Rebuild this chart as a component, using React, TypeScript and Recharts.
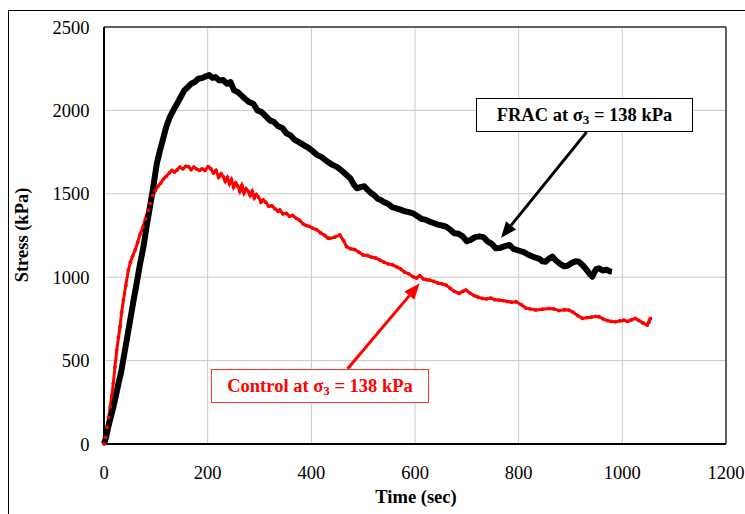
import { LineChart, Line, XAxis, YAxis, CartesianGrid, ReferenceLine } from "recharts";

// time (sec), stress (kPa)
const fracPoints: [number, number][] = [
  [0, 0], [4, 40], [8, 100], [13, 160], [18, 220], [23, 290], [28, 364], [33, 430], [37, 500], [42, 590],
  [47, 680], [52, 770], [57, 860], [63, 963], [69, 1070], [76, 1180], [82, 1300], [88, 1410], [94, 1520], [102, 1683],
  [108, 1760], [114, 1830], [120, 1900], [127, 1960], [134, 2002], [141, 2040], [148, 2080], [155, 2120], [162, 2140], [168, 2160],
  [175, 2170], [182, 2190], [190, 2195], [197, 2205], [203, 2212], [209, 2195], [215, 2200], [222, 2180], [230, 2182], [237, 2160],
  [244, 2170], [251, 2120], [258, 2110], [265, 2090], [272, 2070], [280, 2050], [288, 2040], [296, 2000], [304, 1990], [312, 1965],
  [320, 1940], [328, 1930], [336, 1905], [344, 1895], [352, 1862], [360, 1850], [368, 1823], [376, 1810], [384, 1795], [392, 1780],
  [400, 1763], [410, 1735], [420, 1720], [430, 1695], [440, 1675], [450, 1660], [460, 1635], [468, 1613], [476, 1590], [482, 1555],
  [488, 1533], [495, 1540], [502, 1545], [508, 1525], [515, 1505], [522, 1490], [528, 1470], [534, 1463], [540, 1450], [548, 1440],
  [556, 1420], [564, 1413], [572, 1405], [580, 1395], [588, 1390], [596, 1383], [605, 1365], [612, 1350], [620, 1345], [628, 1333],
  [636, 1325], [644, 1315], [652, 1310], [660, 1303], [668, 1285], [676, 1263], [684, 1260], [692, 1245], [700, 1215], [708, 1225],
  [716, 1240], [724, 1245], [732, 1240], [740, 1215], [748, 1200], [756, 1173], [764, 1175], [772, 1185], [782, 1193], [790, 1170],
  [800, 1160], [810, 1150], [820, 1133], [830, 1120], [840, 1110], [846, 1095], [852, 1093], [858, 1110], [865, 1123], [872, 1100],
  [880, 1080], [888, 1065], [895, 1070], [902, 1085], [910, 1095], [916, 1093], [924, 1070], [932, 1040], [938, 1015], [942, 1003],
  [946, 1030], [950, 1050], [955, 1053], [962, 1040], [970, 1045], [976, 1035], [980, 1033],
];

const controlPoints: [number, number][] = [
  [0, 0], [3, 40], [6, 100], [9, 160], [12, 224], [15, 290], [18, 364], [21, 460], [24.6, 563], [28, 640],
  [31, 703], [34, 790], [37.5, 863], [42, 950], [47, 1043], [51, 1090], [55, 1125], [60, 1163], [65, 1210], [70, 1260],
  [75, 1300], [80, 1350], [85, 1400], [89, 1443], [94, 1490], [99, 1520], [104, 1545], [109, 1563], [115, 1590], [120, 1605],
  [126, 1625], [131, 1640], [136, 1630], [141, 1643], [146, 1660], [152, 1650], [158, 1665], [163, 1663], [168, 1645], [173, 1660],
  [178, 1650], [184, 1640], [189, 1650], [195, 1640], [201, 1663], [206, 1650], [211, 1625], [216, 1640], [221, 1600], [226, 1620],
  [230, 1603], [234, 1575], [238, 1598], [242, 1560], [246, 1585], [250, 1540], [254, 1565], [258, 1548], [262, 1515], [266, 1550],
  [270, 1505], [274, 1530], [278, 1515], [282, 1490], [286, 1515], [290, 1475], [294, 1495], [298, 1480], [303, 1450], [307, 1463],
  [312, 1450], [318, 1425], [324, 1428], [330, 1410], [336, 1395], [339, 1403], [345, 1380], [352, 1383], [358, 1365], [364, 1370],
  [371, 1353], [378, 1340], [384, 1320], [390, 1310], [396, 1305], [403, 1293], [410, 1285], [418, 1265], [426, 1250], [432, 1235],
  [436, 1233], [445, 1240], [455, 1253], [462, 1220], [468, 1183], [476, 1170], [484, 1165], [492, 1150], [500, 1133], [508, 1130],
  [516, 1120], [524, 1115], [532, 1103], [540, 1090], [548, 1080], [556, 1075], [564, 1063], [572, 1050], [580, 1030], [588, 1020],
  [596, 1003], [603, 995], [609, 1010], [616, 990], [622, 985], [628, 983], [636, 975], [644, 965], [652, 960], [660, 953],
  [668, 933], [676, 915], [685, 903], [692, 915], [698, 923], [706, 905], [714, 890], [722, 880], [730, 873], [738, 870],
  [746, 875], [754, 865], [762, 863], [770, 860], [778, 855], [786, 850], [795, 853], [805, 835], [814, 815], [822, 810],
  [833, 803], [846, 808], [859, 813], [868, 810], [878, 800], [888, 805], [897, 803], [905, 790], [914, 770], [923, 753],
  [932, 758], [940, 760], [948, 765], [955, 763], [963, 750], [971, 740], [979, 735], [987, 733], [995, 738], [1003, 742],
  [1010, 735], [1018, 745], [1025, 753], [1032, 740], [1040, 725], [1048, 713], [1051, 730], [1054, 753],
];

const xTicks = [0, 200, 400, 600, 800, 1000, 1200];
const yTicks = [0, 500, 1000, 1500, 2000, 2500];

// arrows: from label box to the curve
const fracArrow = [{ x: 931, y: 1870 }, { x: 766, y: 1236 }];
const controlArrow = [{ x: 470, y: 451 }, { x: 609, y: 963 }];

const frac = fracPoints.map(([t, s]) => ({ t, s }));
const control = controlPoints.map(([t, s]) => ({ t, s }));

const FONT = "Liberation Serif";
const FS = 18.5;

const arrowShape = (color: string) => (props: any) => {
  const { x1, y1, x2, y2 } = props;
  const a = Math.atan2(y2 - y1, x2 - x1);
  const L = 16;
  const W = 6.5;
  const bx = x2 - L * Math.cos(a);
  const by = y2 - L * Math.sin(a);
  return (
    <g>
      <line x1={x1} y1={y1} x2={bx} y2={by} stroke={color} strokeWidth={3} />
      <polygon
        points={`${x2},${y2} ${bx + W * Math.sin(a)},${by - W * Math.cos(a)} ${bx - W * Math.sin(a)},${by + W * Math.cos(a)}`}
        fill={color}
      />
    </g>
  );
};

const boxText = { fontFamily: FONT, fontWeight: 700, fontSize: FS, lineHeight: "32px", textAlign: "center" as const, whiteSpace: "nowrap" as const };
const subStyle = { fontSize: 13, verticalAlign: -3, lineHeight: 0 };

const App = () => {
  return (
    <div style={{ position: "absolute", left: 8, top: 10, width: 737, height: 504, overflow: "hidden", fontFamily: FONT }}>
      <div style={{ position: "absolute", inset: 0, borderTop: "1px solid #000", borderLeft: "1px solid #000" }} />
      <LineChart width={737} height={504} margin={{ top: 17, right: 19, left: 0, bottom: 20 }}>
        <CartesianGrid stroke="#c8c8c8" strokeWidth={1} />
        <XAxis
          type="number"
          dataKey="t"
          domain={[0, 1200]}
          ticks={xTicks}
          tickLine={false}
          tickSize={6}
          tickMargin={16}
          height={50}
          axisLine={{ stroke: "#000", strokeWidth: 2 }}
          tick={{ fill: "#000", fontSize: FS, fontFamily: FONT }}
          label={{
            content: () => (
              <text x={408} y={493} textAnchor="middle" fontFamily={FONT} fontWeight={700} fontSize={FS} fill="#000">
                Time (sec)
              </text>
            ),
          }}
        />
        <YAxis
          type="number"
          domain={[0, 2500]}
          ticks={yTicks}
          width={96}
          tickLine={false}
          tickSize={6}
          tickMargin={8.5}
          axisLine={{ stroke: "#000", strokeWidth: 2 }}
          tick={{ fill: "#000", fontSize: FS, fontFamily: FONT }}
          label={{
            content: () => (
              <text x={14} y={225} transform="rotate(-90 14 225)" dy="0.35em" textAnchor="middle" fontFamily={FONT} fontWeight={700} fontSize={FS} fill="#000">
                Stress (kPa)
              </text>
            ),
          }}
        />
        <ReferenceLine y={2500} stroke="#333" strokeWidth={1.5} />
        <ReferenceLine x={1200} stroke="#333" strokeWidth={1.5} />
        <Line data={control} dataKey="s" stroke="#ff0000" strokeWidth={3} dot={{ r: 1.9, fill: "#ff0000", stroke: "none" }} isAnimationActive={false} />
        <Line data={frac} dataKey="s" stroke="#000" strokeWidth={6} strokeLinejoin="round" dot={false} isAnimationActive={false} />
        <ReferenceLine segment={fracArrow} shape={arrowShape("#000")} />
        <ReferenceLine segment={controlArrow} shape={arrowShape("#ff0000")} />
      </LineChart>
      <div style={{ position: "absolute", left: 468, top: 88, width: 215, height: 32, border: "1px solid #000", background: "#fff", ...boxText }}>
        FRAC at σ<sub style={subStyle}>3</sub> = 138 kPa
      </div>
      <div style={{ position: "absolute", left: 203, top: 359, width: 216, height: 32, border: "1px solid #ff3030", background: "#fff", color: "#ff0000", ...boxText }}>
        Control at σ<sub style={subStyle}>3</sub> = 138 kPa
      </div>
    </div>
  );
};

export default App;
